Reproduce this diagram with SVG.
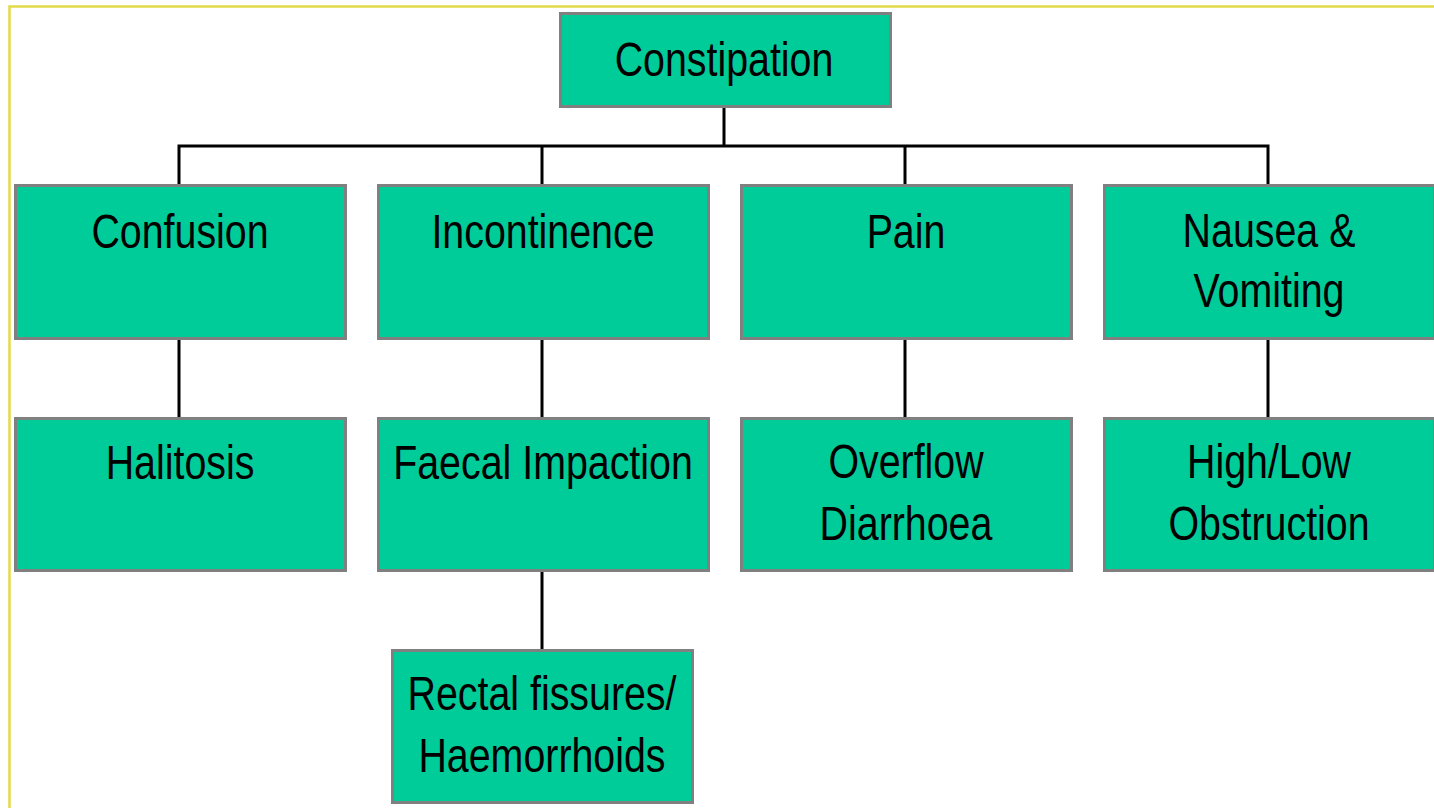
<svg xmlns="http://www.w3.org/2000/svg" width="1434" height="808" viewBox="0 0 1434 808">
<style>
.box{fill:#00CC99;stroke:#808080;stroke-width:3}
.lbl{font-family:"Liberation Sans",Arial,sans-serif;font-size:48px;fill:#000;text-anchor:middle}
.con{fill:none;stroke:#000;stroke-width:3}
</style>
<rect x="0" y="0" width="1434" height="808" fill="#fff"/>
<path d="M9.5 810 V6.5 H1440" fill="none" stroke="#E2DA4A" stroke-width="2.5"/>
<g id="connectors">
<path class="con" d="M724 106 V146 M179 185 V146 H1268 V185 M542 146 V185 M905 146 V185"/>
<path class="con" d="M179 339 V418 M542 339 V418 M905 339 V418 M1268 339 V418 M542 571 V650"/>
</g>
<g id="n-constipation"><rect class="box" x="560.5" y="13.5" width="330" height="93"/><text class="lbl" transform="matrix(0.82 0 0 1 724 0)" x="0" y="76">Constipation</text></g>
<g id="n-confusion"><rect class="box" x="15.5" y="185.5" width="330" height="153"/><text class="lbl" transform="matrix(0.82 0 0 1 180 0)" x="0" y="248">Confusion</text></g>
<g id="n-incontinence"><rect class="box" x="378.5" y="185.5" width="330" height="153"/><text class="lbl" transform="matrix(0.82 0 0 1 543 0)" x="0" y="248">Incontinence</text></g>
<g id="n-pain"><rect class="box" x="741.5" y="185.5" width="330" height="153"/><text class="lbl" transform="matrix(0.82 0 0 1 906 0)" x="0" y="248">Pain</text></g>
<g id="n-nausea"><rect class="box" x="1104.5" y="185.5" width="330" height="153"/><text class="lbl" transform="matrix(0.82 0 0 1 1269 0)" x="0" y="247">Nausea &amp;</text><text class="lbl" transform="matrix(0.82 0 0 1 1269 0)" x="0" y="307">Vomiting</text></g>
<g id="n-halitosis"><rect class="box" x="15.5" y="418.5" width="330" height="152"/><text class="lbl" transform="matrix(0.82 0 0 1 180 0)" x="0" y="479">Halitosis</text></g>
<g id="n-faecal"><rect class="box" x="378.5" y="418.5" width="330" height="152"/><text class="lbl" transform="matrix(0.82 0 0 1 543 0)" x="0" y="479">Faecal Impaction</text></g>
<g id="n-overflow"><rect class="box" x="741.5" y="418.5" width="330" height="152"/><text class="lbl" transform="matrix(0.82 0 0 1 906 0)" x="0" y="478">Overflow</text><text class="lbl" transform="matrix(0.82 0 0 1 906 0)" x="0" y="540">Diarrhoea</text></g>
<g id="n-obstruction"><rect class="box" x="1104.5" y="418.5" width="330" height="152"/><text class="lbl" transform="matrix(0.82 0 0 1 1269 0)" x="0" y="478">High/Low</text><text class="lbl" transform="matrix(0.82 0 0 1 1269 0)" x="0" y="540">Obstruction</text></g>
<g id="n-rectal"><rect class="box" x="392.5" y="650.5" width="300" height="152"/><text class="lbl" transform="matrix(0.82 0 0 1 542 0)" x="0" y="710">Rectal fissures/</text><text class="lbl" transform="matrix(0.82 0 0 1 542 0)" x="0" y="772">Haemorrhoids</text></g>
</svg>
